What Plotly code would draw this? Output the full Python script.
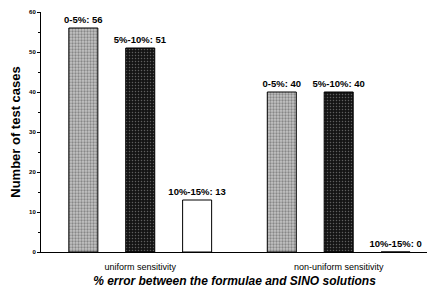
import plotly.graph_objects as go

categories = ["uniform sensitivity", "non-uniform sensitivity"]
series_names = ["0-5%", "5%-10%", "10%-15%"]
values_0_5 = [56, 40]
values_5_10 = [51, 40]
values_10_15 = [13, 0]
y_ticks = [0, 10, 20, 30, 40, 50, 60]

series_values = [values_0_5, values_5_10, values_10_15]
styles = [
    dict(bg="#c4c4c4", fg="#4a4a4a", shape=".", sol=0.45),
    dict(bg="#141414", fg="#a8a8a8", shape=".", sol=0.2),
    dict(bg="#ffffff", fg="#ffffff", shape="", sol=0.3),
]

fig = go.Figure()
for name, vals, st in zip(series_names, series_values, styles):
    fig.add_trace(go.Bar(
        x=categories, y=vals, name=name,
        text=[f"{name}: {v}" for v in vals],
        textposition="outside", cliponaxis=False, constraintext="none",
        textfont=dict(family="Liberation Sans", size=9.5, color="black", weight="bold"),
        marker=dict(
            color=st["bg"],
            line=dict(color="black", width=1),
            pattern=dict(shape=st["shape"], fgcolor=st["fg"], bgcolor=st["bg"],
                         size=3, solidity=st["sol"], fillmode="overlay"),
        ),
    ))

# page body has a default 8px margin, so the figure is sized to fit inside the window
fig.update_layout(
    width=427, height=289,
    margin=dict(l=33, r=7, t=4, b=45),
    paper_bgcolor="white", plot_bgcolor="white",
    barmode="group", bargap=0.14, bargroupgap=0.49,
    showlegend=False,
    font=dict(family="Liberation Sans", color="black"),
    xaxis=dict(
        range=[-0.5, 1.45], showline=True, linecolor="black", linewidth=1,
        ticks="outside", ticklen=6, tickcolor="rgba(0,0,0,0)",
        tickfont=dict(size=9), automargin=False,
        title=dict(text="<b><i>% error between the formulae and SINO solutions</i></b>",
                   font=dict(size=12), standoff=5),
    ),
    yaxis=dict(
        range=[0, 60], tickvals=y_ticks, showline=True, linecolor="black", linewidth=1,
        ticks="outside", ticklen=3, tickcolor="black", showgrid=False, zeroline=False,
        tickfont=dict(size=6, weight="bold"), automargin=False,
        minor=dict(dtick=5, ticks="outside", ticklen=2, tickcolor="black"),
        title=dict(text="<b>Number of test cases</b>", font=dict(size=13), standoff=8),
    ),
)

fig.write_html("out.html")
